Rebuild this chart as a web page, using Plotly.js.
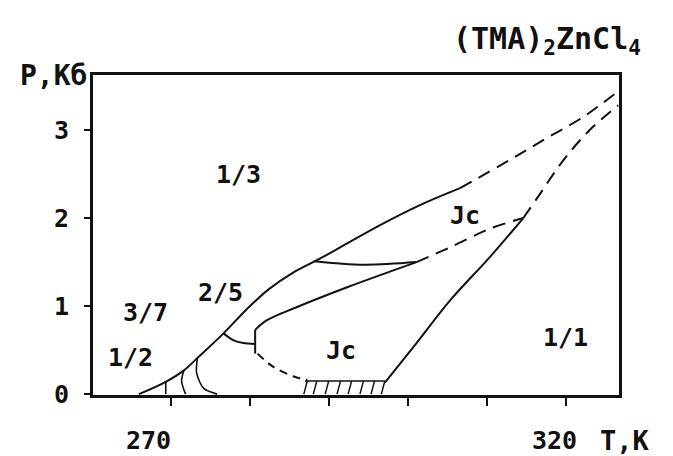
<!DOCTYPE html>
<html>
<head>
<meta charset="utf-8">
<script src="https://cdn.plot.ly/plotly-3.0.1.min.js"></script>
<style>html,body{margin:0;padding:0;background:#fff;}</style>
</head>
<body>
<div id="chart" style="width:673px;height:456px;"></div>
<script>
// ---- data (T in K, P in kbar) ----
const mainT = [266.0, 269.4, 271.7, 273.4, 276.7, 279.7, 282.4, 285.5, 288.7, 291.5, 296.5, 301.6, 306.6];
const mainP = [0.00, 0.14, 0.27, 0.41, 0.69, 0.97, 1.19, 1.38, 1.53, 1.67, 1.92, 2.15, 2.34];
const mainDashT = [306.6, 312.9, 317.6, 322.2, 326.6];
const mainDashP = [2.34, 2.66, 2.91, 3.15, 3.44];

const rightT = [297.1, 301.1, 305.4, 310.4, 314.6];
const rightP = [0.13, 0.58, 1.07, 1.56, 2.00];
const rightDashT = [314.6, 316.3, 319.7, 323.0, 326.6];
const rightDashP = [2.00, 2.22, 2.66, 3.00, 3.28];

const midT = [280.7, 282.2, 286.0, 292.5, 301.1];
const midP = [0.73, 0.84, 0.99, 1.22, 1.50];
const midDashT = [301.1, 305.4, 310.4, 314.6];
const midDashP = [1.50, 1.67, 1.88, 2.00];

const horT = [288.1, 294.4, 301.1];
const horP = [1.51, 1.47, 1.50];

const b25T = [276.7, 278.0, 279.2, 280.7];
const b25P = [0.69, 0.61, 0.58, 0.57];
const vertT = [280.7, 280.7];
const vertP = [0.73, 0.46];

const lowDashT = [281.0, 283.0, 285.6, 287.3];
const lowDashP = [0.46, 0.31, 0.20, 0.16];

const aT = [269.4, 269.4];
const aP = [0.14, 0.00];
const bT = [271.7, 271.4, 271.9];
const bP = [0.27, 0.15, 0.00];
const cT = [273.4, 273.3, 274.2, 275.9];
const cP = [0.41, 0.24, 0.065, 0.00];

const hatchT = [287.3, 288.5, 290.0, 291.5, 292.9, 294.4, 295.8, 297.1];
const hatchTopP = 0.15;

const xTickVals = [270, 280, 290, 300, 310, 320];
const xLabelVals = [270, 320];
const xLabelText = ["270", "320"];
const yTickVals = [0, 1, 2, 3];
const yTickText = ["0", "1", "2", "3"];

const phaseLabels = ["1/3", "2/5", "3/7", "1/2", "Jc", "Jc", "1/1"];
const phaseT = [278.6, 276.3, 266.8, 264.9, 291.5, 307.2, 319.9];
const phaseP = [2.49, 1.15, 0.93, 0.42, 0.50, 2.03, 0.64];

// ---- drawing ----
const FONT = "DejaVu Sans Mono, Liberation Mono, monospace";
const INK = "#111";
const solid = {color: INK, width: 2, shape: "spline", smoothing: 1};
const dashed = {color: INK, width: 2, dash: "13px,8px", shape: "spline", smoothing: 1};
function tr(x, y, line) {
  return {x: x, y: y, mode: "lines", line: line, hoverinfo: "skip", showlegend: false, type: "scatter"};
}
const hx = [], hy = [];
hatchT.forEach(t => { hx.push(t, t - 0.45, null); hy.push(hatchTopP, 0, null); });
hx.push(hatchT[0] - 0.3, hatchT[hatchT.length - 1]);
hy.push(hatchTopP, hatchTopP);

const thin = {color: INK, width: 1.6, shape: "spline", smoothing: 0.8};
const traces = [
  tr(mainT, mainP, solid),
  tr(mainDashT, mainDashP, dashed),
  tr(rightT, rightP, solid),
  tr(rightDashT, rightDashP, dashed),
  tr(midT, midP, solid),
  tr(midDashT, midDashP, dashed),
  tr(horT, horP, solid),
  tr(b25T, b25P, solid),
  tr(vertT, vertP, {color: INK, width: 2}),
  tr(lowDashT, lowDashP, {color: INK, width: 2, dash: "8px,6px", shape: "spline"}),
  tr(aT, aP, thin),
  tr(bT, bP, thin),
  tr(cT, cP, thin),
  tr(hx, hy, {color: INK, width: 1.5})
];

const bold = (size) => ({family: FONT, size: size, color: INK, weight: "bold"});
const annotations = phaseLabels.map((s, i) => ({
  x: phaseT[i], y: phaseP[i], xref: "x", yref: "y", text: s, showarrow: false, font: bold(25)
}));
const xShifts = [-22, -12];
xLabelVals.forEach((v, i) => annotations.push({
  x: v, xref: "x", xshift: xShifts[i], y: 0, yref: "paper", yshift: -45, yanchor: "middle",
  text: xLabelText[i], showarrow: false, font: bold(25)
}));
annotations.push({xref: "paper", yref: "paper", x: 0, xshift: -4, y: 1.0, xanchor: "right", yanchor: "middle",
  text: "P,Kб", showarrow: false, font: bold(28)});
annotations.push({xref: "paper", yref: "paper", x: 1.0, xshift: 24, y: 1.0, yshift: 35, xanchor: "right", yanchor: "middle",
  text: "(TMA)<sub>2</sub>ZnCl<sub>4</sub>", showarrow: false, font: bold(30)});
annotations.push({xref: "paper", yref: "paper", x: 1.0, xshift: -21, y: 0, yshift: -45, xanchor: "left", yanchor: "middle",
  text: "T,K", showarrow: false, font: bold(27)});

const layout = {
  width: 673, height: 456,
  margin: {l: 93, r: 54, t: 75, b: 61},
  paper_bgcolor: "#fff", plot_bgcolor: "#fff",
  showlegend: false,
  font: {family: FONT, color: INK},
  xaxis: {
    range: [260.2, 326.7], showgrid: false, zeroline: false,
    showline: true, linewidth: 3, linecolor: INK, mirror: true,
    ticks: "outside", ticklen: 8, tickwidth: 2, tickcolor: INK,
    tickvals: xTickVals, showticklabels: false
  },
  yaxis: {
    range: [-0.01, 3.625], showgrid: false, zeroline: false,
    showline: true, linewidth: 3, linecolor: INK, mirror: true,
    ticks: "outside", ticklen: 6, tickwidth: 2, tickcolor: INK,
    tickvals: yTickVals, ticktext: yTickText,
    tickfont: bold(25),
    ticklabelstandoff: 10
  },
  annotations: annotations
};

Plotly.newPlot("chart", traces, layout, {displayModeBar: false, staticPlot: true});
</script>
</body>
</html>
